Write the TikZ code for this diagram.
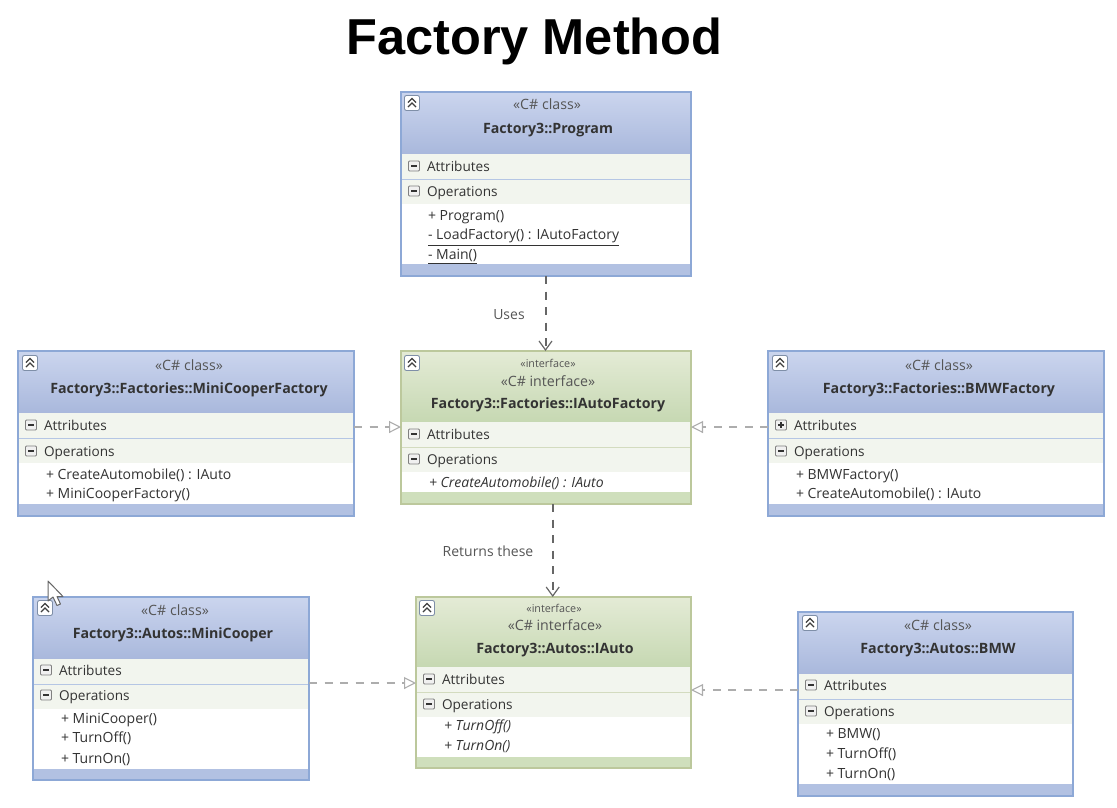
\documentclass[tikz,border=0pt]{standalone}
\usepackage{fontspec}
\setmainfont{Open Sans}
\newfontfamily\titlefont{Liberation Sans}
\usetikzlibrary{arrows.meta}
\definecolor{bluetop}{HTML}{CBD5EE}
\definecolor{bluebot}{HTML}{A9B8DC}
\definecolor{blueedge}{HTML}{8DA8D6}
\definecolor{bluefoot}{HTML}{B2C1E2}
\definecolor{greentop}{HTML}{E4EBD6}
\definecolor{greenbot}{HTML}{C6D8B2}
\definecolor{greenedge}{HTML}{BCC89C}
\definecolor{greenfoot}{HTML}{CFDFBC}
\definecolor{rowbg}{HTML}{F2F5EE}
\definecolor{inktext}{HTML}{333333}
\definecolor{softtext}{HTML}{555555}
\definecolor{iconedge}{HTML}{7F8FA8}
\tikzset{
  every node/.style={inner sep=0pt,outer sep=0pt},
  boxouter/.style={draw,line width=1.5pt,rectangle},
  stereo/.style={anchor=mid,yshift=-3.3pt,text=softtext,font=\fontsize{14.2}{16}\selectfont},
  smallstereo/.style={anchor=mid,yshift=-2.5pt,text=softtext,font=\fontsize{10.8}{12}\selectfont},
  titletext/.style={anchor=mid,yshift=-3.3pt,text=inktext,font=\fontsize{14.2}{16}\selectfont\bfseries},
  rowtext/.style={anchor=mid west,yshift=-3.3pt,text=inktext,font=\fontsize{13.6}{16}\selectfont},
  optext/.style={anchor=mid west,yshift=-3.3pt,text=inktext,font=\fontsize{14}{16}\selectfont},
  absop/.style={anchor=mid west,yshift=-3.3pt,text=inktext,font=\fontsize{14}{16}\selectfont\itshape},
  linklabel/.style={anchor=mid,yshift=-3.3pt,text=softtext,font=\fontsize{14}{16}\selectfont},
  usesline/.style={draw=black!60,line width=2pt,dash pattern=on 8pt off 7.5pt},
  usestip/.style={-{Straight Barb[length=9pt,width=13pt,line width=1.2pt]}},
  realizeline/.style={draw=black!32,line width=2pt,dash pattern=on 8pt off 7.5pt},
  realizetip/.style={-{Triangle[open,length=12pt,width=12pt,line width=1.1pt]}},
}
\newcommand{\umlbox}[9]{%
  \pgfmathsetmacro{\bw}{#4-#2}\pgfmathsetmacro{\bh}{#5-#3}%
  \pgfmathsetmacro{\bcx}{(#2+#4)/2}\pgfmathsetmacro{\bcy}{(#3+#5)/2}%
  \shade[top color=\boxtop,bottom color=\boxbot] (#2,#3) rectangle (#4,#6);
  \fill[rowbg] (#2,#6) rectangle (#4,#8);
  \fill[white] (#2,#8) rectangle (#4,#9);
  \fill[\boxfoot] (#2,#9) rectangle (#4,#5);
  \draw[\boxedge!65,line width=1pt] (#2,#7) -- (#4,#7);
  \node[boxouter,draw=\boxedge,minimum width=\bw pt,minimum height=\bh pt] (#1) at (\bcx,\bcy) {};
}
\newcommand{\bluebox}{\def\boxtop{bluetop}\def\boxbot{bluebot}\def\boxedge{blueedge}\def\boxfoot{bluefoot}}
\newcommand{\greenbox}{\def\boxtop{greentop}\def\boxbot{greenbot}\def\boxedge{greenedge}\def\boxfoot{greenfoot}}
\newcommand{\chevicon}[2]{%
  \draw[iconedge,fill=white,line width=0.9pt,rounded corners=2pt] (#1-7.5,#2-7.5) rectangle (#1+7.5,#2+7.5);
  \draw[black!75,line width=1.1pt] (#1-4,#2-0.5) -- (#1,#2-4.5) -- (#1+4,#2-0.5);
  \draw[black!75,line width=1.1pt] (#1-4,#2+4) -- (#1,#2) -- (#1+4,#2+4);
}
\newcommand{\minusicon}[2]{%
  \draw[black!50,fill=black!6,line width=0.9pt,rounded corners=1pt] (#1-5.5,#2-5) rectangle (#1+5.5,#2+5);
  \draw[black!80,line width=1.1pt] (#1-3,#2) -- (#1+3,#2);
}
\newcommand{\plusicon}[2]{%
  \minusicon{#1}{#2}\draw[black!80,line width=1.1pt] (#1,#2-3) -- (#1,#2+3);
}
\begin{document}
\begin{tikzpicture}[x=1pt,y=-1pt]
\useasboundingbox (0,0) rectangle (1117,807);
\node[anchor=mid,yshift=-15pt,font=\fontsize{50.5}{54}\selectfont\titlefont\bfseries] (title) at (534.5,37) {Factory Method};

% Program
\bluebox
\umlbox{prog}{401}{92}{691}{276}{154}{179.5}{204}{264}
\chevicon{412}{103}\minusicon{414}{166}\minusicon{414}{191}
\node[stereo] (progS) at (547,104) {«C\# class»};
\node[titletext] (progT) at (548,128) {Factory3::Program};
\node[rowtext] (progA) at (427,166) {Attributes};
\node[rowtext] (progO) at (427,191) {Operations};
\node[optext] (progO1) at (428,215) {+ Program()};
\node[optext] (progO2) at (428,234) {\underline{- LoadFactory() : IAutoFactory}};
\node[optext] (progO3) at (428,254) {\underline{- Main()}};

% MiniCooperFactory
\umlbox{mcf}{18}{351}{354}{516}{413}{438}{463}{504}
\chevicon{30}{363}\minusicon{31}{425}\minusicon{31}{451}
\node[stereo] (mcfS) at (189,365) {«C\# class»};
\node[titletext] (mcfT) at (189,388) {Factory3::Factories::MiniCooperFactory};
\node[rowtext] (mcfA) at (44,425) {Attributes};
\node[rowtext] (mcfO) at (44,451) {Operations};
\node[optext] (mcfO1) at (46,474) {+ CreateAutomobile() : IAuto};
\node[optext] (mcfO2) at (46,493) {+ MiniCooperFactory()};

% BMWFactory
\umlbox{bmf}{768}{351}{1104}{516}{413}{438}{463}{504}
\chevicon{780}{363}\plusicon{781}{425}\minusicon{781}{451}
\node[stereo] (bmfS) at (939,365) {«C\# class»};
\node[titletext] (bmfT) at (939,388) {Factory3::Factories::BMWFactory};
\node[rowtext] (bmfA) at (794,425) {Attributes};
\node[rowtext] (bmfO) at (794,451) {Operations};
\node[optext] (bmfO1) at (796,474) {+ BMWFactory()};
\node[optext] (bmfO2) at (796,493) {+ CreateAutomobile() : IAuto};

% MiniCooper
\umlbox{mc}{33}{597}{309}{780}{659}{684}{709}{769}
\chevicon{45}{608}\minusicon{46}{670}\minusicon{46}{695}
\node[stereo] (mcS) at (175,610) {«C\# class»};
\node[titletext] (mcT) at (173,633) {Factory3::Autos::MiniCooper};
\node[rowtext] (mcA) at (59,670) {Attributes};
\node[rowtext] (mcO) at (59,695) {Operations};
\node[optext] (mcO1) at (61,718) {+ MiniCooper()};
\node[optext] (mcO2) at (61,737) {+ TurnOff()};
\node[optext] (mcO3) at (61,758) {+ TurnOn()};

% BMW
\umlbox{bm}{798}{612}{1073}{796}{674}{699}{724}{784}
\chevicon{810}{623}\minusicon{811}{685}\minusicon{811}{711}
\node[stereo] (bmS) at (938,625) {«C\# class»};
\node[titletext] (bmT) at (938,648) {Factory3::Autos::BMW};
\node[rowtext] (bmA) at (824,685) {Attributes};
\node[rowtext] (bmO) at (824,711) {Operations};
\node[optext] (bmO1) at (826,733) {+ BMW()};
\node[optext] (bmO2) at (826,753) {+ TurnOff()};
\node[optext] (bmO3) at (826,773) {+ TurnOn()};

% IAutoFactory
\greenbox
\umlbox{iaf}{401}{351}{691}{504}{422}{447}{472}{492}
\chevicon{412}{363}\minusicon{414}{434}\minusicon{414}{459}
\node[smallstereo] (iafI) at (548,362) {«interface»};
\node[stereo] (iafS) at (548,381) {«C\# interface»};
\node[titletext] (iafT) at (548,403) {Factory3::Factories::IAutoFactory};
\node[rowtext] (iafA) at (427,434) {Attributes};
\node[rowtext] (iafO) at (427,459) {Operations};
\node[absop] (iafO1) at (429,482) {+ CreateAutomobile() : IAuto};

% IAuto
\umlbox{ia}{416}{597}{691}{768}{667}{692}{717}{757}
\chevicon{427}{608}\minusicon{429}{679}\minusicon{429}{704}
\node[smallstereo] (iaI) at (554,607) {«interface»};
\node[stereo] (iaS) at (555,625) {«C\# interface»};
\node[titletext] (iaT) at (555,648) {Factory3::Autos::IAuto};
\node[rowtext] (iaA) at (442,679) {Attributes};
\node[rowtext] (iaO) at (442,704) {Operations};
\node[absop] (iaO1) at (444,725) {+ TurnOff()};
\node[absop] (iaO2) at (444,745) {+ TurnOn()};

% connectors
\coordinate (usesX) at (545.5,300);
\coordinate (retX) at (552.7,550);
\coordinate (topRow) at (0,427);
\coordinate (mcRow) at (0,683);
\coordinate (bmRow) at (0,690);
\draw[usesline,usestip] (prog.south -| usesX) -- (iaf.north -| usesX);
\draw[usesline,usestip] (iaf.south -| retX) -- (ia.north -| retX);
\draw[realizeline,realizetip] (mcf.east |- topRow) -- (iaf.west |- topRow);
\draw[realizeline,realizetip] (bmf.west |- topRow) -- (iaf.east |- topRow);
\draw[realizeline,realizetip] (mc.east |- mcRow) -- (ia.west |- mcRow);
\draw[realizeline,realizetip] (bm.west |- bmRow) -- (ia.east |- bmRow);
\node[linklabel] (uses) at (509,314) {Uses};
\node[linklabel] (returns) at (488,551) {Returns these};

% mouse cursor
\draw[black!60,fill=white,line width=1pt,line join=round]
  (48,581) -- (48,601) -- (53,597) -- (57,605.5) -- (60.5,604) -- (57,596.5) -- (63,596.5) -- cycle;
\end{tikzpicture}
\end{document}
